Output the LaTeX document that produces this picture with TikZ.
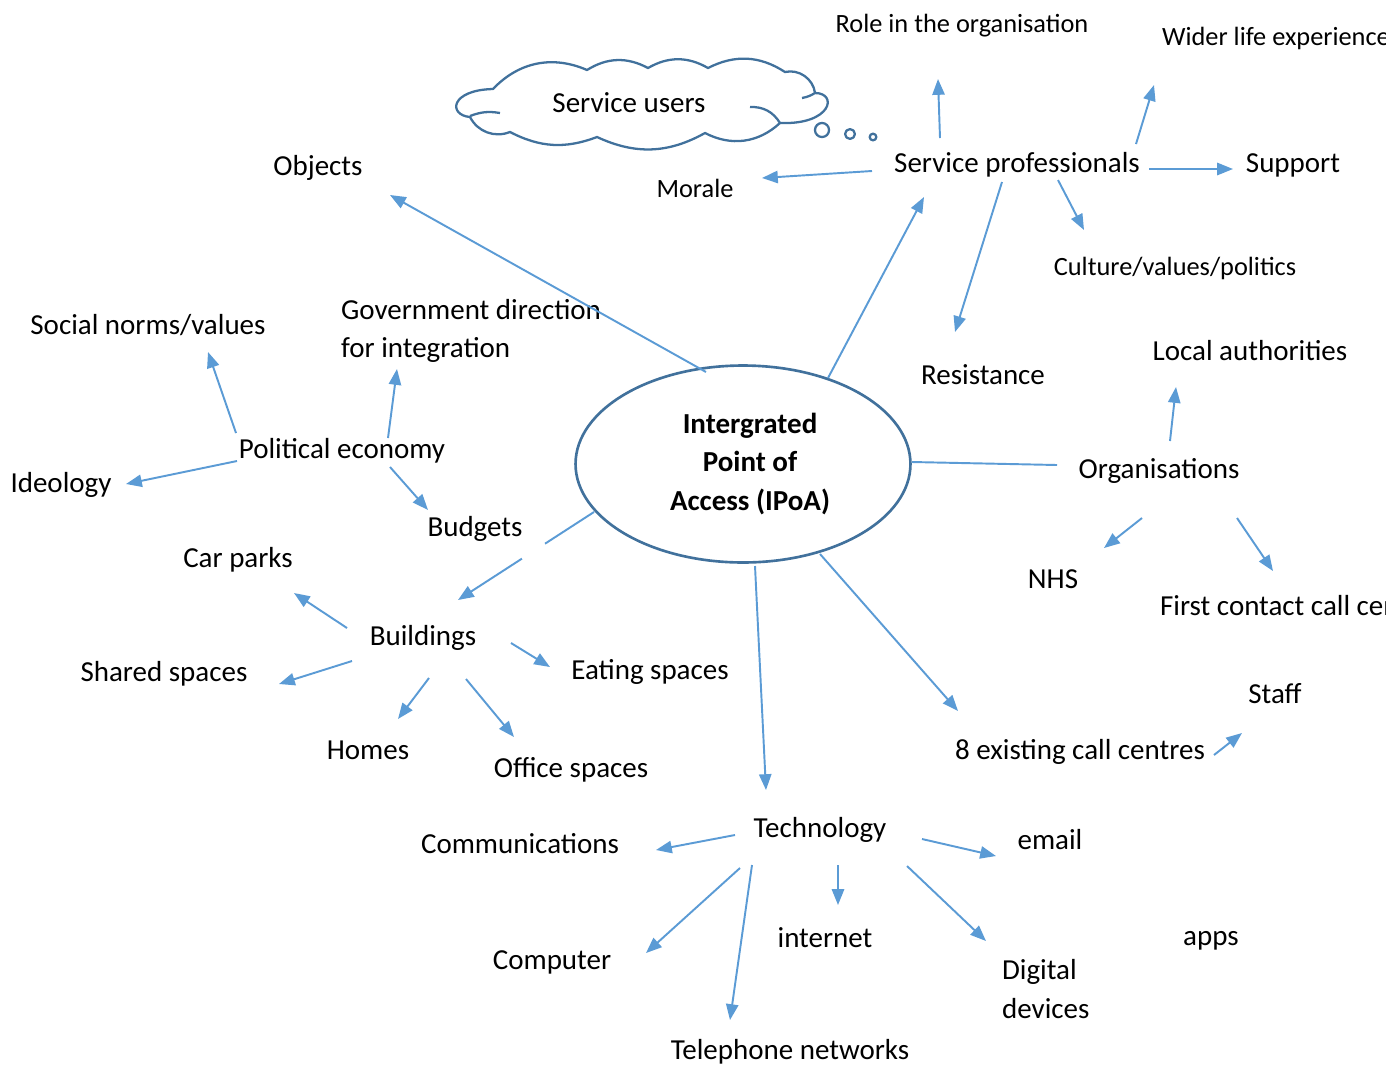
\documentclass[tikz,border=0pt]{standalone}
\usepackage{fontspec}
\setmainfont{Carlito}
\usetikzlibrary{arrows.meta,shapes.geometric,calc}

\definecolor{linkblue}{RGB}{91,155,213}
\definecolor{edgeblue}{RGB}{65,113,156}
\newcommand{\mapfont}{\fontsize{16.5}{22}\selectfont}
\newcommand{\mapsmall}{\fontsize{15}{19}\selectfont}

\tikzset{
  topic/.style={font=\mapfont, inner sep=1pt, text height=13pt, text depth=3pt},
  subtopic/.style={topic, font=\mapsmall},
  lines/.style={font=\mapfont, inner sep=1pt, align=left},
  link/.style={draw=linkblue, line width=1.1pt},
  arr/.style={link, -{Triangle[length=9pt,width=7pt]}},
  puff/.style={draw=edgeblue, line width=1.3pt, line join=round}
}

\begin{document}
\begin{tikzpicture}[x=0.02cm,y=-0.02cm]
    \useasboundingbox (0,0) rectangle (1386,1066);

    % hub
    \node[ellipse, draw=edgeblue, line width=1.5pt,
        minimum width=6.7cm, minimum height=3.94cm,
        align=center, font=\mapfont\bfseries] (ipoa) at (743,464)
        {\hspace*{8pt}Intergrated\\\hspace*{8pt}Point of\\\hspace*{8pt}Access (IPoA)};

    % thought cloud, traced puff by puff, then its bubbles
    \draw[puff] (493,89) to[bend left=35] (587,70) to[bend left=30] (648,68)
        to[bend left=30] (708,68) to[bend left=30] (785,72) to[bend left=48] (815,93)
        .. controls (838,93) and (832,125) .. (780,123)
        to[bend left=35] (705,133) to[bend left=27] (597,137) to[bend left=24] (510,132)
        to[bend left=42] (470,117) .. controls (448,115) and (450,90) .. cycle;
    \draw[puff] (470,116) to[bend left=15] (500,113);
    \draw[puff] (815,93) to[bend left=10] (802,98);
    \draw[puff] (750,107) to[bend left=30] (780,123);
    \draw[puff] (822,130) circle (4pt);
    \draw[puff] (850,134) circle (2.8pt);
    \draw[puff] (873,137) circle (1.9pt);
    \node[topic] (su) at (629,104) {Service users};

    % service professionals branch
    \node[topic] (sp) at (1017,164) {Service professionals};
    \node[subtopic] (role) at (962,24) {Role in the organisation};
    \node[subtopic, anchor=west] (wider) at (1160,37) {Wider life experience};
    \node[subtopic] (morale) at (695,189) {Morale};
    \node[topic] (support) at (1293,164) {Support};
    \node[subtopic] (culture) at (1175,267) {Culture/values/politics};
    \node[topic] (res) at (983,376) {Resistance};
    \node[topic] (obj) at (318,167) {Objects};

    % political economy branch
    \node[topic] (pe) at (342,450) {Political economy};
    \node[lines, anchor=west] (gov) at (339,331) {Government direction\\for integration};
    \node[topic] (soc) at (148,326) {Social norms/values};
    \node[topic] (ideo) at (61,484) {Ideology};
    \node[topic] (bud) at (475,528) {Budgets};

    % buildings branch
    \node[topic] (bld) at (423,637) {Buildings};
    \node[topic] (car) at (238,559) {Car parks};
    \node[topic] (shared) at (164,673) {Shared spaces};
    \node[topic] (eat) at (650,671) {Eating spaces};
    \node[topic] (homes) at (368,751) {Homes};
    \node[topic] (office) at (571,769) {Office spaces};

    % organisations branch
    \node[topic] (org) at (1159,470) {Organisations};
    \node[topic] (la) at (1250,352) {Local authorities};
    \node[topic] (nhs) at (1053,580) {NHS};
    \node[topic, anchor=west] (fc) at (1158,607) {First contact call centres};
    \node[topic] (calls) at (1080,751) {8 existing call centres};
    \node[topic] (staff) at (1275,695) {Staff};

    % technology branch
    \node[topic] (tech) at (820,829) {Technology};
    \node[topic] (comm) at (520,845) {Communications};
    \node[topic] (email) at (1050,841) {email};
    \node[topic] (apps) at (1211,937) {apps};
    \node[topic] (inet) at (825,939) {internet};
    \node[topic] (comp) at (552,961) {Computer};
    \node[lines, anchor=west] (dig) at (1000,989) {Digital\\devices};
    \node[topic] (tel) at (790,1051) {Telephone networks};

    % connectors
    \draw[arr] ([shift={(-77,-26)}]sp.center) -- ([shift={(-24,55)}]role.center);
    \draw[arr] ([shift={(119,-20)}]sp.center) -- ([shift={(-6,48)}]wider.west);
    \draw[arr] ([shift={(-145,7)}]sp.center) -- ([shift={(67,-11)}]morale.center);
    \draw[arr] ([shift={(132,5)}]sp.center) -- ([shift={(-60,5)}]support.center);
    \draw[arr] ([shift={(41,16)}]sp.center) -- ([shift={(-91,-37)}]culture.center);
    \draw[arr] ([shift={(-15,18)}]sp.center) -- ([shift={(-28,-44)}]res.center);
    \draw[arr] ([shift={(85,-86)}]ipoa.center) -- ([shift={(-93,33)}]sp.center);
    \draw[arr] ([shift={(-37,-92)}]ipoa.center) -- ([shift={(72,28)}]obj.center);

    \draw[arr] ([shift={(-106,-17)}]pe.center) -- ([shift={(60,26)}]soc.center);
    \draw[arr] ([shift={(46,-12)}]pe.center) -- ([shift={(58,38)}]gov.west);
    \draw[arr] ([shift={(-105,11)}]pe.center) -- ([shift={(65,0)}]ideo.center);
    \draw[arr] ([shift={(48,17)}]pe.center) -- ([shift={(-47,-18)}]bud.center);

    % this one is broken where it passes the Budgets box
    \coordinate (bfrom) at ([shift={(-149,48)}]ipoa.center);
    \coordinate (bto) at ([shift={(35,-37)}]bld.center);
    \draw[link] (bfrom) -- ($(bfrom)!0.36!(bto)$);
    \draw[arr] ($(bfrom)!0.53!(bto)$) -- (bto);

    \draw[arr] ([shift={(-76,-9)}]bld.center) -- ([shift={(56,34)}]car.center);
    \draw[arr] ([shift={(-71,24)}]bld.center) -- ([shift={(115,11)}]shared.center);
    \draw[arr] ([shift={(88,6)}]bld.center) -- ([shift={(-100,-4)}]eat.center);
    \draw[arr] ([shift={(6,41)}]bld.center) -- ([shift={(30,-32)}]homes.center);
    \draw[arr] ([shift={(43,42)}]bld.center) -- ([shift={(-57,-32)}]office.center);

    \draw[link] ([shift={(169,-2)}]ipoa.center) -- ([shift={(-102,-5)}]org.center);
    \draw[arr] ([shift={(11,-29)}]org.center) -- ([shift={(-74,35)}]la.center);
    \draw[arr] ([shift={(-17,48)}]org.center) -- ([shift={(51,-32)}]nhs.center);
    \draw[arr] ([shift={(78,48)}]org.center) -- ([shift={(115,-36)}]fc.west);
    \draw[arr] ([shift={(77,90)}]ipoa.center) -- ([shift={(-122,-40)}]calls.center);
    \draw[arr] ([shift={(134,4)}]calls.center) -- ([shift={(-33,38)}]staff.center);

    \draw[arr] ([shift={(12,102)}]ipoa.center) -- ([shift={(-54,-39)}]tech.center);
    \draw[arr] ([shift={(-85,6)}]tech.center) -- ([shift={(136,5)}]comm.center);
    \draw[arr] ([shift={(102,10)}]tech.center) -- ([shift={(-54,15)}]email.center);
    \draw[arr] ([shift={(18,36)}]tech.center) -- ([shift={(13,-34)}]inet.center);
    \draw[arr] ([shift={(87,37)}]tech.center) -- ([shift={(-14,-48)}]dig.west);
    \draw[arr] ([shift={(-80,39)}]tech.center) -- ([shift={(94,-8)}]comp.center);
    \draw[arr] ([shift={(-68,36)}]tech.center) -- ([shift={(-60,-31)}]tel.center);
\end{tikzpicture}
\end{document}
